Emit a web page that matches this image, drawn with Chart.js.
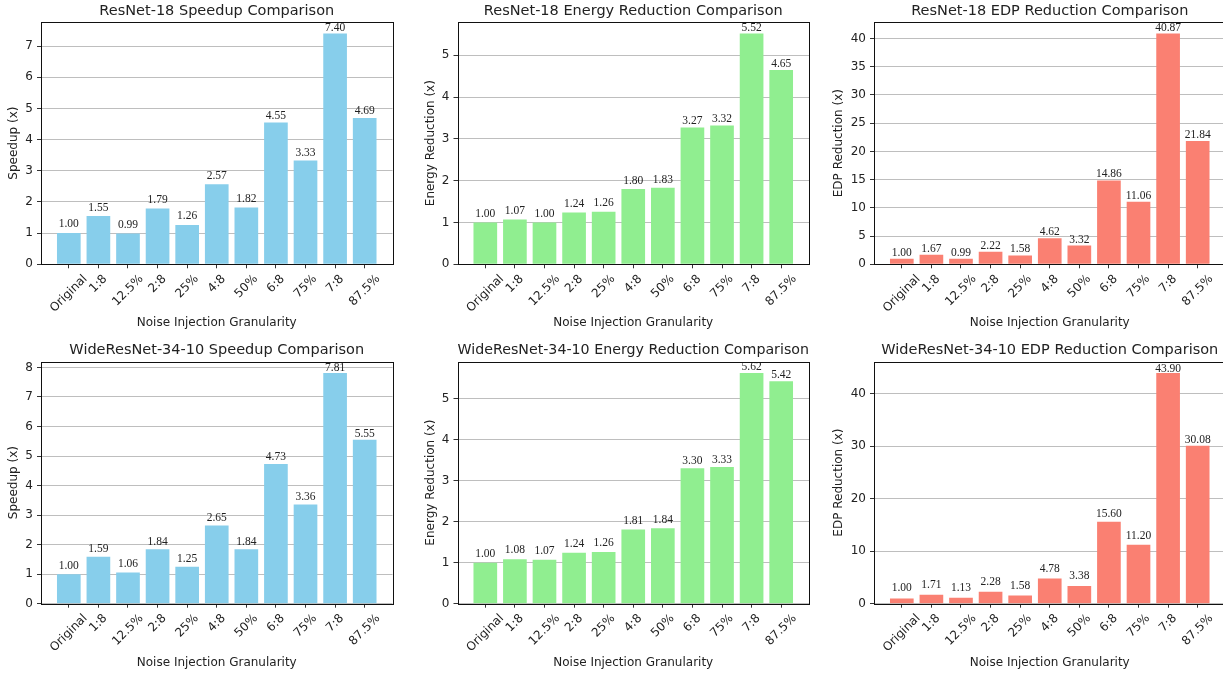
<!DOCTYPE html>
<html>
<head>
<meta charset="utf-8">
<script src="https://cdn.jsdelivr.net/npm/chart.js@4.4.0/dist/chart.umd.min.js"></script>
<style>
  html, body { margin: 0; padding: 0; background: #fff; overflow: hidden; width: 1223px; height: 676px; }
  .panel { position: absolute; }
</style>
</head>
<body>
<div class="panel" style="left:0px;top:0px"><canvas id="c1" width="410" height="338"></canvas></div>
<div class="panel" style="left:410px;top:0px"><canvas id="c2" width="410" height="338"></canvas></div>
<div class="panel" style="left:820px;top:0px"><canvas id="c3" width="420" height="338"></canvas></div>
<div class="panel" style="left:0px;top:338px"><canvas id="c4" width="410" height="338"></canvas></div>
<div class="panel" style="left:410px;top:338px"><canvas id="c5" width="410" height="338"></canvas></div>
<div class="panel" style="left:820px;top:338px"><canvas id="c6" width="420" height="338"></canvas></div>
<script>
// categories on the x axis
const categories = ['Original', '1:8', '12.5%', '2:8', '25%', '4:8', '50%', '6:8', '75%', '7:8', '87.5%'];

// ResNet-18
const resnetSpeedup = [1.00, 1.55, 0.99, 1.79, 1.26, 2.57, 1.82, 4.55, 3.33, 7.40, 4.69];
const resnetEnergy  = [1.00, 1.07, 1.00, 1.24, 1.26, 1.80, 1.83, 3.27, 3.32, 5.52, 4.65];
const resnetEdp     = [1.00, 1.67, 0.99, 2.22, 1.58, 4.62, 3.32, 14.86, 11.06, 40.87, 21.84];

// WideResNet-34-10
const wrnSpeedup = [1.00, 1.59, 1.06, 1.84, 1.25, 2.65, 1.84, 4.73, 3.36, 7.81, 5.55];
const wrnEnergy  = [1.00, 1.08, 1.07, 1.24, 1.26, 1.81, 1.84, 3.30, 3.33, 5.62, 5.42];
const wrnEdp     = [1.00, 1.71, 1.13, 2.28, 1.58, 4.78, 3.38, 15.60, 11.20, 43.90, 30.08];

const xTitle = 'Noise Injection Granularity';

const SANS = '"DejaVu Sans", sans-serif';
const SERIF = '"Liberation Serif", "Times New Roman", serif';
const INK = '#222';
const LABEL_SIZE = 12;

// one bar panel; layout numbers tuned to the reference figure
function makePanel(id, cfg) {
  const ctx = document.getElementById(id).getContext('2d');
  const maxVal = Math.max(...cfg.values);

  const decor = {
    id: 'decor',
    afterDatasetsDraw(chart) {
      const c = chart.ctx;
      const area = chart.chartArea;
      const meta = chart.getDatasetMeta(0);

      // value labels above the bars
      c.save();
      c.font = '11.5px ' + SERIF;
      c.fillStyle = INK;
      c.textAlign = 'center';
      c.textBaseline = 'alphabetic';
      meta.data.forEach((bar, i) => {
        const v = cfg.values[i];
        const off = cfg.lblA - cfg.lblB * (v / maxVal);
        c.fillText(v.toFixed(2), bar.x, bar.y - off);
      });
      c.restore();

      // box round the plot
      c.save();
      c.strokeStyle = '#111';
      c.lineWidth = 1;
      const l = Math.round(area.left) + 0.5, t = Math.round(area.top) + 0.5;
      const r = Math.round(area.right) + 0.5, b = Math.round(area.bottom) + 0.5;
      c.strokeRect(l, t, r - l, b - t);
      c.restore();

      // rotated category labels, centred under each tick like matplotlib
      const xs = chart.scales.x;
      c.save();
      c.font = LABEL_SIZE + 'px ' + SANS;
      c.fillStyle = INK;
      c.textAlign = 'center';
      c.textBaseline = 'middle';
      xs.ticks.forEach(tk => {
        const label = categories[tk.value];
        if (label === undefined) return;
        const px = xs.getPixelForValue(tk.value);
        const w = c.measureText(label).width;
        const h = LABEL_SIZE * 1.17;
        const half = (w + h) * Math.SQRT1_2 / 2;
        c.save();
        c.translate(px, area.bottom + 7.8 + half);
        c.rotate(-Math.PI / 4);
        c.fillText(label, 0, 0);
        c.restore();
      });
      c.restore();
    }
  };

  return new Chart(ctx, {
    type: 'bar',
    data: {
      datasets: [{
        data: cfg.values.map((v, i) => ({ x: i, y: v })),
        backgroundColor: cfg.color,
        borderWidth: 0,
        barPercentage: 0.8,
        categoryPercentage: 1.0
      }]
    },
    options: {
      responsive: false,
      animation: false,
      events: [],
      layout: { padding: { left: 0, right: cfg.padRight, top: 0, bottom: 0 } },
      plugins: {
        legend: { display: false },
        tooltip: { enabled: false },
        title: {
          display: true,
          text: cfg.title,
          fullSize: false,
          color: INK,
          font: { family: SANS, size: 14.5, weight: 'normal', lineHeight: 1.2 },
          padding: { top: cfg.titlePadTop, bottom: cfg.titlePadBottom }
        }
      },
      scales: {
        x: {
          type: 'linear',
          offset: false,
          min: -0.94,
          max: 10.94,
          ticks: { stepSize: 1, includeBounds: false, autoSkip: false, display: false },
          grid: { offset: false, drawOnChartArea: false, drawTicks: true, tickLength: 4, tickColor: '#333' },
          border: { display: false },
          title: {
            display: true,
            text: xTitle,
            color: INK,
            font: { family: SANS, size: LABEL_SIZE, lineHeight: 1.2 },
            padding: { top: 0, bottom: cfg.xTitlePad }
          },
          afterFit(scale) { scale.height = cfg.xHeight; }
        },
        y: {
          min: 0,
          max: maxVal * 1.05,
          ticks: {
            stepSize: cfg.step,
            includeBounds: false,
            color: INK,
            padding: 4,
            font: { family: SANS, size: LABEL_SIZE },
            callback: v => String(v)
          },
          grid: { color: '#bebebe', lineWidth: 1, tickLength: 4, tickColor: '#333' },
          border: { display: false },
          title: {
            display: true,
            text: cfg.yTitle,
            color: INK,
            font: { family: SANS, size: LABEL_SIZE, lineHeight: 1.2 },
            padding: { top: cfg.yTitlePad, bottom: 0 }
          },
          afterFit(scale) { scale.width = cfg.yWidth; }
        }
      }
    },
    plugins: [decor]
  });
}

const topRow = { titlePadTop: 2.8, titlePadBottom: 1.8, xHeight: 73.7, xTitlePad: 7.5 };
const botRow = { titlePadTop: 3.8, titlePadBottom: 2.3, xHeight: 72.3, xTitlePad: 5.8 };
const col1 = { yWidth: 41, padRight: 17.5, yTitlePad: 6.8 };
const col2 = { yWidth: 47.5, padRight: 11, yTitlePad: 13.5 };
const col3 = { yWidth: 54, padRight: 14.5, yTitlePad: 12.1 };

makePanel('c1', Object.assign({}, topRow, col1, {
  title: 'ResNet-18 Speedup Comparison', yTitle: 'Speedup (x)', values: resnetSpeedup,
  color: '#87CEEB', step: 1, lblA: 6.2, lblB: 3.9
}));
makePanel('c2', Object.assign({}, topRow, col2, {
  title: 'ResNet-18 Energy Reduction Comparison', yTitle: 'Energy Reduction (x)', values: resnetEnergy,
  color: '#90EE90', step: 1, lblA: 6.0, lblB: 3.7
}));
makePanel('c3', Object.assign({}, topRow, col3, {
  title: 'ResNet-18 EDP Reduction Comparison', yTitle: 'EDP Reduction (x)', values: resnetEdp,
  color: '#FA8072', step: 5, lblA: 3, lblB: 0
}));
makePanel('c4', Object.assign({}, botRow, col1, {
  title: 'WideResNet-34-10 Speedup Comparison', yTitle: 'Speedup (x)', values: wrnSpeedup,
  color: '#87CEEB', step: 1, lblA: 5.4, lblB: 3.1
}));
makePanel('c5', Object.assign({}, botRow, col2, {
  title: 'WideResNet-34-10 Energy Reduction Comparison', yTitle: 'Energy Reduction (x)', values: wrnEnergy,
  color: '#90EE90', step: 1, lblA: 6.7, lblB: 4.0
}));
makePanel('c6', Object.assign({}, botRow, col3, {
  title: 'WideResNet-34-10 EDP Reduction Comparison', yTitle: 'EDP Reduction (x)', values: wrnEdp,
  color: '#FA8072', step: 10, lblA: 7.1, lblB: 5.8
}));
</script>
</body>
</html>
